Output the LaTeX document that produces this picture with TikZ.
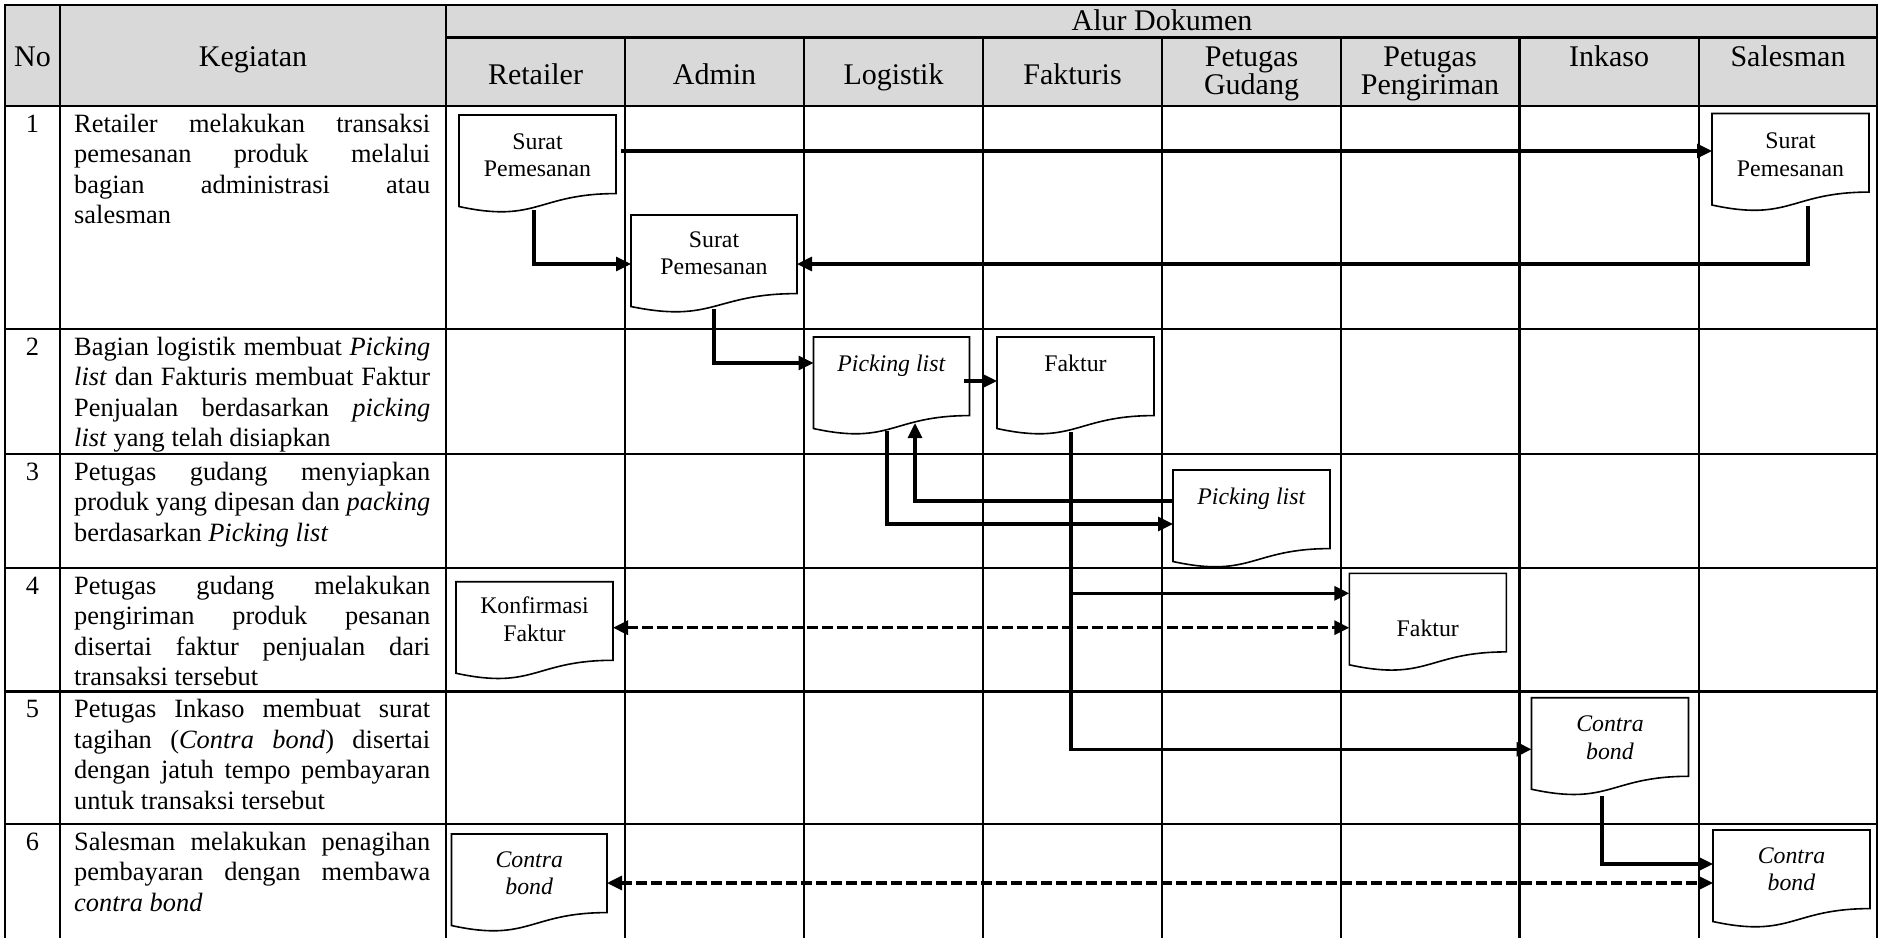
\documentclass[tikz,border=0pt]{standalone}
\usepackage{fontspec}
\setmainfont{Liberation Serif}
\usetikzlibrary{calc,arrows.meta}
\definecolor{hdrgray}{HTML}{D9D9D9}
% invisible struts that fix the first baseline of multi-line texts
\newcommand\hdrstrut{\rule{0pt}{24pt}}
\newcommand\docstrut{\rule{0pt}{25pt}}
\newcommand\taskstrut{\rule{0pt}{22pt}}
\tolerance=10000
\hyphenpenalty=10000

\begin{document}
\begin{tikzpicture}[x=1pt,y=-1pt,
  grid/.style={line width=2.2pt, line cap=rect},
  hdr/.style={font=\fontsize{30}{28}\selectfont, inner sep=0pt, anchor=base},
  hdrtwo/.style={font=\fontsize{30}{28}\selectfont, inner sep=0pt, anchor=north, align=center},
  num/.style={font=\fontsize{26.4}{30.5}\selectfont, inner sep=0pt, anchor=base},
  task/.style={font=\fontsize{26.4}{30.5}\selectfont, inner sep=0pt, anchor=north west,
    text width=356pt, align=justify},
  docbox/.style={minimum width=157pt, minimum height=98pt, inner sep=0pt, outer sep=0pt,
    anchor=north west},
  doctext/.style={font=\fontsize{23.8}{27.5}\selectfont, inner sep=0pt, anchor=north, align=center},
  docline/.style={line width=1.6pt},
  >={Triangle[length=15pt,width=14pt]},
  flow/.style={line width=3.2pt, ->},
  dflow/.style={line width=3.2pt, dash pattern=on 10.5pt off 4.5pt, <->},
]
\useasboundingbox (0,0) rectangle (1879,937);

% ---------- table ----------
\fill[hdrgray] (5,5) rectangle (1877,106);
\draw[grid] (5,5) -- (1877,5);
\draw[grid] (446,37.5) -- (1877,37.5);
\foreach \y in {106,329,454,568,691.5,824}
  \draw[grid] (5,\y) -- (1877,\y);
\foreach \x in {5,60,446,1877}
  \draw[grid] (\x,5) -- (\x,940);
\foreach \x in {625,804,983,1162,1341,1519.5,1699}
  \draw[grid] (\x,37.5) -- (\x,940);

% ---------- header ----------
\node[hdr] (hno)  at (32.5,66) {No};
\node[hdr] (hkeg) at (253,66) {Kegiatan};
\node[hdr] (halur) at (1162,30) {Alur Dokumen};
\node[hdr] (hret) at (535.5,84) {Retailer};
\node[hdr] (hadm) at (714.5,84) {Admin};
\node[hdr] (hlog) at (893.5,84) {Logistik};
\node[hdr] (hfak) at (1072.5,84) {Fakturis};
\node[hdrtwo] (hgud) at (1251.5,42) {\hdrstrut Petugas\\Gudang};
\node[hdrtwo] (hkir) at (1430,42) {\hdrstrut Petugas\\Pengiriman};
\node[hdr] (hink) at (1609,66) {Inkaso};
\node[hdr] (hsal) at (1788,66) {Salesman};

% ---------- row numbers ----------
\node[num] (n1) at (32.5,132) {1};
\node[num] (n2) at (32.5,355) {2};
\node[num] (n3) at (32.5,480) {3};
\node[num] (n4) at (32.5,594) {4};
\node[num] (n5) at (32.5,717.5) {5};
\node[num] (n6) at (32.5,850) {6};

% ---------- activities ----------
\node[task] (k1) at (74,110) {\taskstrut Retailer melakukan transaksi\linebreak pemesanan produk melalui\linebreak bagian administrasi atau\linebreak salesman};
\node[task] (k2) at (74,333) {\taskstrut Bagian logistik membuat \textit{Picking}\linebreak \textit{list} dan Fakturis membuat Faktur\linebreak Penjualan berdasarkan \textit{picking}\linebreak \textit{list} yang telah disiapkan};
\node[task] (k3) at (74,458) {\taskstrut Petugas gudang menyiapkan\linebreak produk yang dipesan dan \textit{packing}\linebreak berdasarkan \textit{Picking list}};
\node[task] (k4) at (74,572) {\taskstrut Petugas gudang melakukan\linebreak pengiriman produk pesanan\linebreak disertai faktur penjualan dari\linebreak transaksi tersebut};
\node[task] (k5) at (74,695.5) {\taskstrut Petugas Inkaso membuat surat\linebreak tagihan (\textit{Contra bond}) disertai\linebreak dengan jatuh tempo pembayaran\linebreak untuk transaksi tersebut};
\node[task] (k6) at (74,828) {\taskstrut Salesman melakukan penagihan\linebreak pembayaran dengan membawa\linebreak \textit{contra bond}};

% ---------- documents ----------
\node[docbox] (d1) at (459,115) {};
\node[docbox, minimum width=166pt] (d2) at (631,215) {};
\node[docbox, minimum width=156pt] (d3) at (813.5,337) {};
\node[docbox] (d4) at (997,337) {};
\node[docbox] (d5) at (1173,470) {};
\node[docbox] (d6) at (1712,113.5) {};
\node[docbox] (d7) at (456,581.7) {};
\node[docbox, minimum width=155.5pt] (d8) at (451.5,834) {};
\node[docbox] (d9) at (1349.3,573.3) {};
\node[docbox] (d10) at (1531.5,697.7) {};
\node[docbox] (d11) at (1713,830) {};

\foreach \d in {d1,d2,d3,d4,d5,d6,d7,d8,d9,d10,d11}
  \draw[docline] (\d.north west) -- (\d.north east)
    -- ($(\d.north east)!0.802!(\d.south east)$)
    .. controls ($(\d.north)!0.802!(\d.south)$) and ($(\d.north)!1.108!(\d.south)$)
    .. ($(\d.north west)!0.934!(\d.south west)$) -- cycle;

\node[doctext] (t1) at ($(d1.north)+(0,9)$) {\docstrut Surat\\Pemesanan};
\node[doctext] (t2) at ($(d2.north)+(0,7)$) {\docstrut Surat\\Pemesanan};
\node[doctext] (t3) at ($(d3.north)+(0,9)$) {\docstrut\textit{Picking list}};
\node[doctext] (t4) at ($(d4.north)+(0,9)$) {\docstrut Faktur};
\node[doctext] (t5) at ($(d5.north)+(0,9)$) {\docstrut\textit{Picking list}};
\node[doctext] (t6) at ($(d6.north)+(0,10)$) {\docstrut Surat\\Pemesanan};
\node[doctext] (t7) at ($(d7.north)+(0,7)$) {\docstrut Konfirmasi\\Faktur};
\node[doctext] (t8) at ($(d8.north)+(0,8)$) {\docstrut\textit{Contra}\\\textit{bond}};
\node[doctext] (t9) at ($(d9.north)+(0,38)$) {\docstrut Faktur};
\node[doctext] (t10) at ($(d10.north)+(0,9)$) {\docstrut\textit{Contra}\\\textit{bond}};
\node[doctext] (t11) at ($(d11.north)+(0,8)$) {\docstrut\textit{Contra}\\\textit{bond}};

% ---------- document flow ----------
\coordinate (c1s) at ($(d1.north east)+(5,36)$);
\draw[flow] (c1s) -- (c1s -| d6.west);
\draw[flow] ($(d1.north west)+(75,95)$) |- (d2.west);
\draw[flow] ($(d6.north west)+(96,92)$) |- (d2.east);
\draw[flow] ($(d2.north)+(0,94)$) |- ($(d3.north west)+(0,26)$);
\draw[flow] ($(d3.north east)+(-6,44)$) -- ($(d4.north west)+(0,44)$);
\draw[flow] ($(d3.north west)+(73.5,94)$) |- ($(d5.north west)+(0,54)$);
\draw[flow] ($(d5.north west)+(0,31)$) -| ($(d3.north west)+(101.5,86)$);
\coordinate (c8s) at ($(d4.north west)+(74,95)$);
\draw[flow] (c8s) |- ($(d10.north west)+(0,51.6)$);
\coordinate (c9e) at ($(d9.north west)+(0,20)$);
\draw[flow] (c8s |- c9e) -- (c9e);
\coordinate (c10s) at ($(d7.north east)+(0,46)$);
\draw[dflow] (c10s) -- (c10s -| d9.west);
\draw[flow] ($(d10.north west)+(70.5,98)$) |- ($(d11.north west)+(0,34)$);
\draw[dflow] (d8.east) -- (d8.east -| d11.west);
\end{tikzpicture}
\end{document}
